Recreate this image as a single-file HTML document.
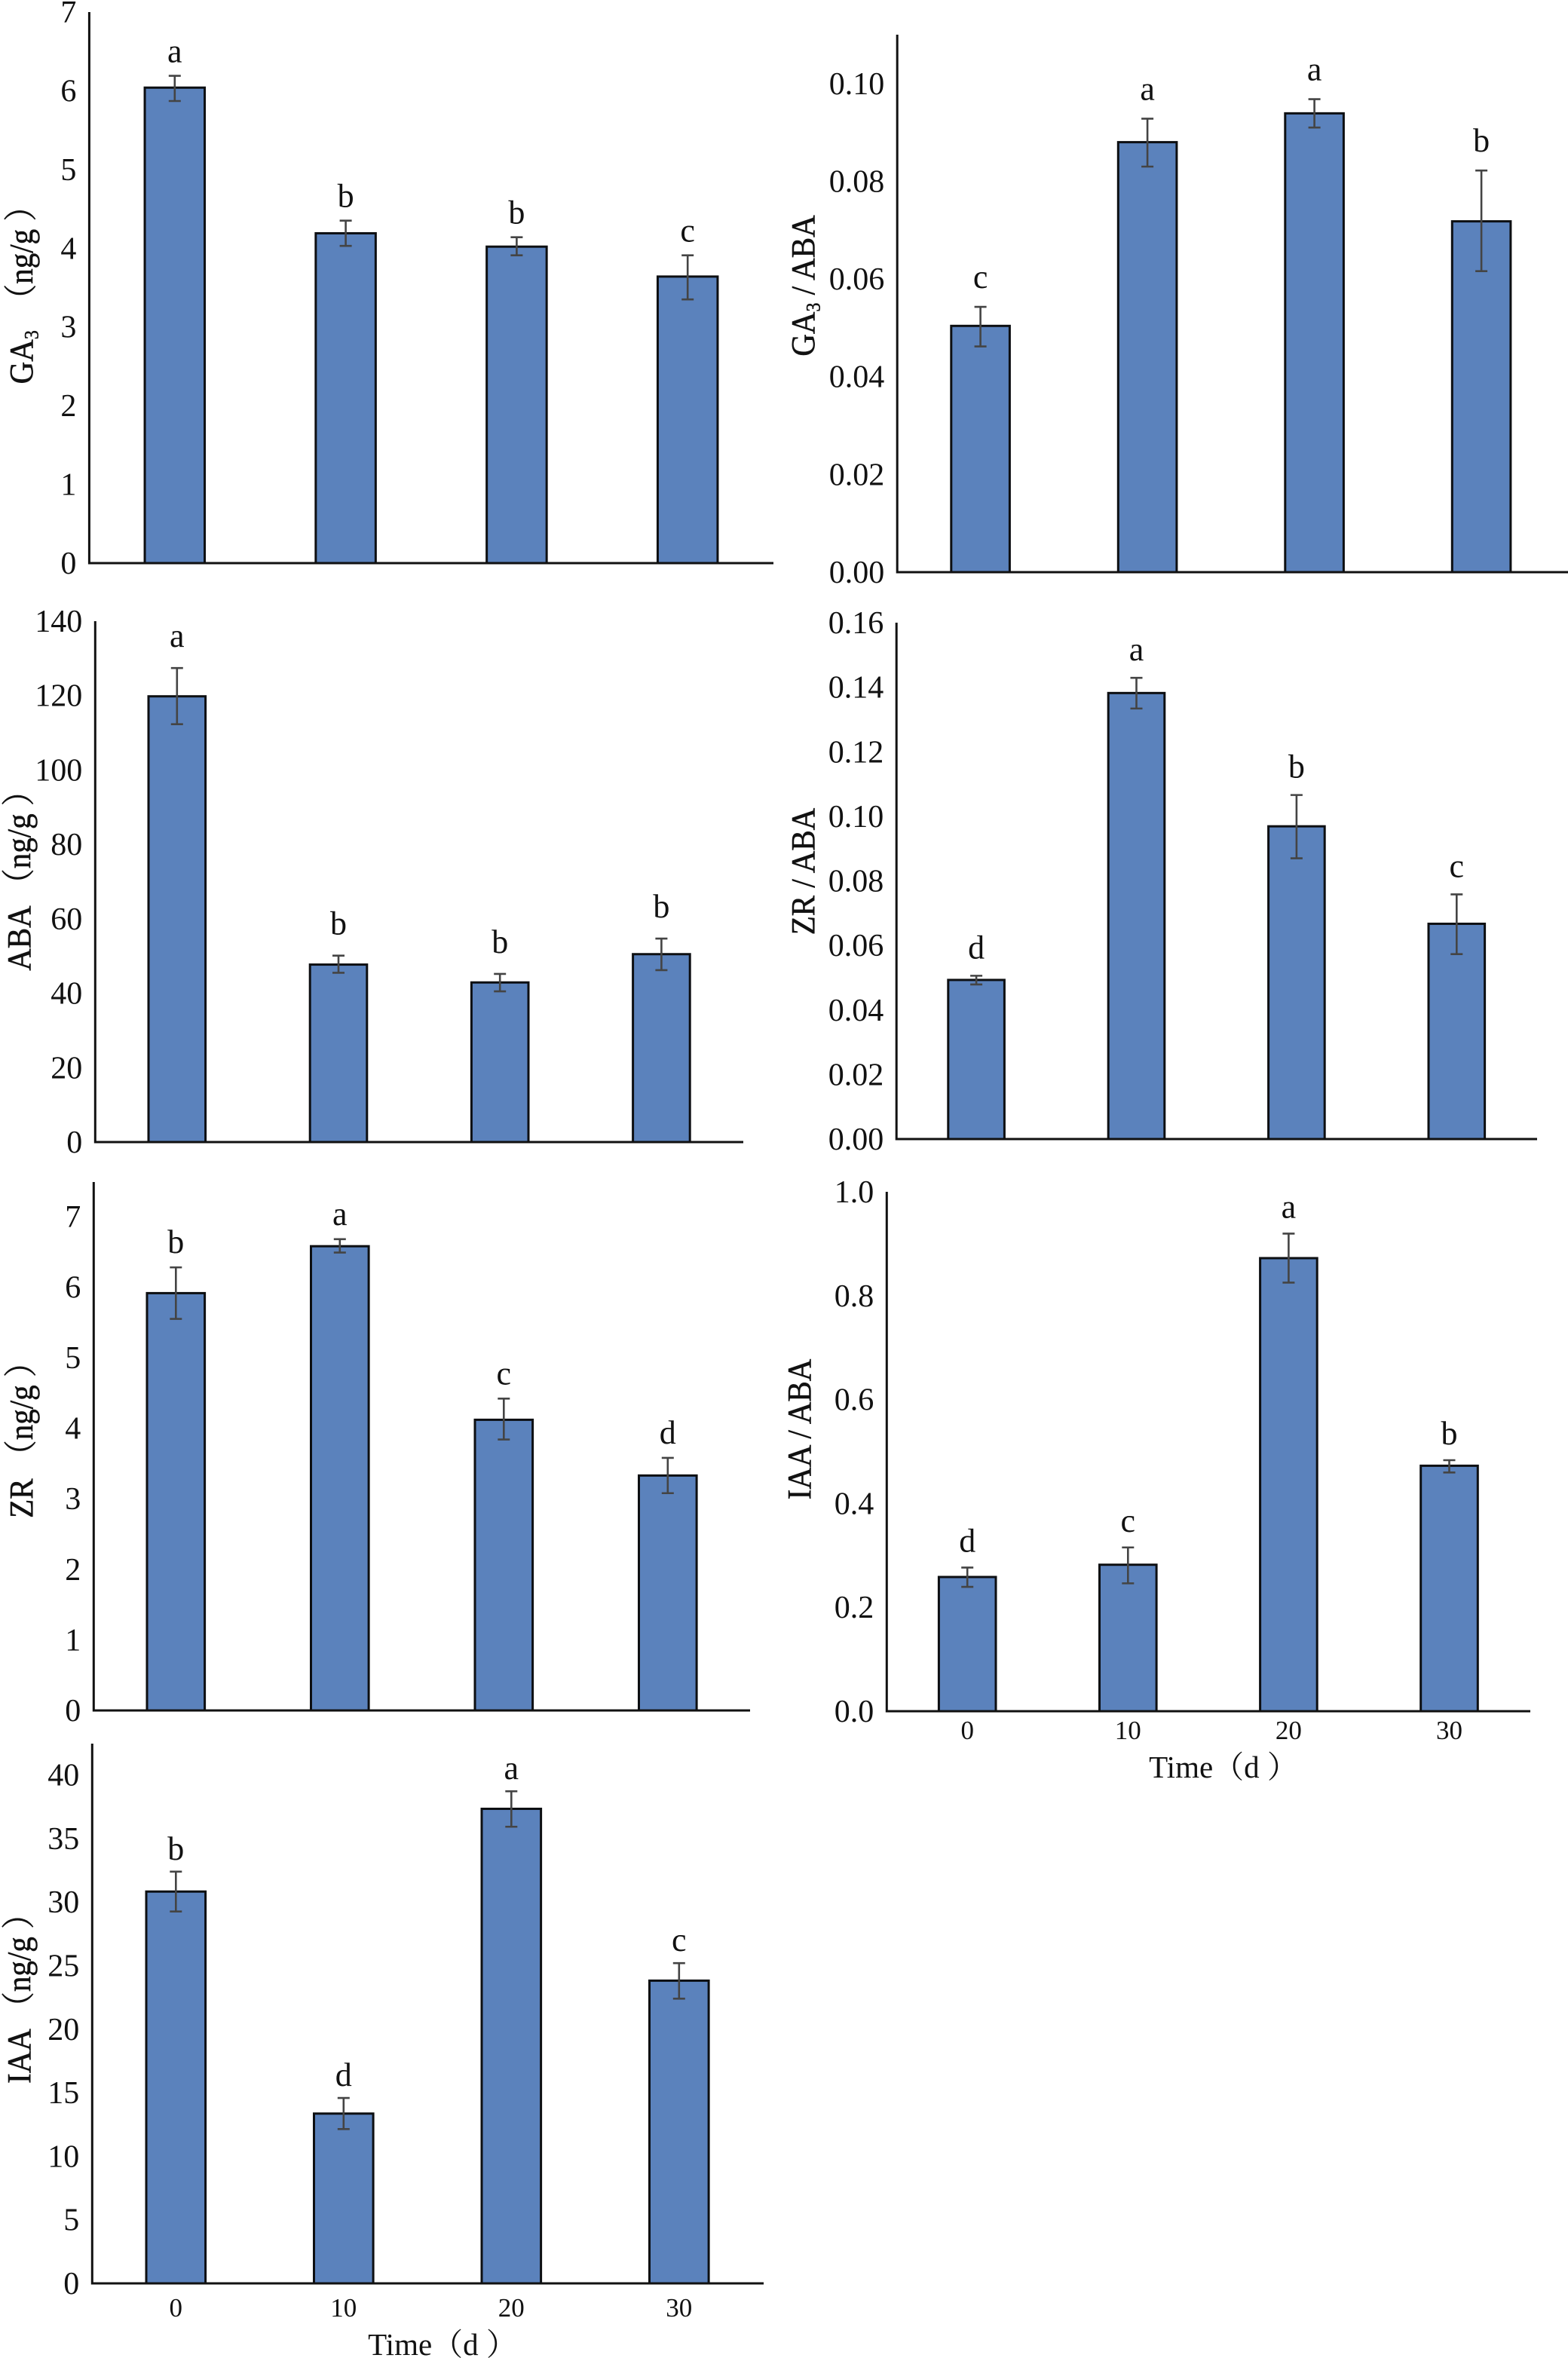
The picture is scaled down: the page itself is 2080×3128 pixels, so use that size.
<!DOCTYPE html>
<html lang="en">
<head>
<meta charset="utf-8">
<title>Hormone content and ratios over time</title>
<style>
html,body{margin:0;padding:0;background:#fff;}
svg{display:block;}
text{font-family:"Liberation Serif","Noto Serif CJK SC",serif;fill:#111;white-space:pre;}
</style>
</head>
<body>
<svg id="figure" xmlns="http://www.w3.org/2000/svg" width="2080" height="3128" viewBox="0 0 2080 3128"></svg>
<script>
const categories = ['0', '10', '20', '30'];

const ga3Ticks = ['0', '1', '2', '3', '4', '5', '6', '7'];
const ga3Values = [6.04, 4.19, 4.02, 3.64];
const ga3ErrHigh = [6.19, 4.35, 4.14, 3.91];
const ga3ErrLow = [5.87, 4.03, 3.91, 3.35];
const ga3Letters = ['a', 'b', 'b', 'c'];

const ga3AbaTicks = ['0.00', '0.02', '0.04', '0.06', '0.08', '0.10'];
const ga3AbaValues = [0.0504, 0.088, 0.0939, 0.0718];
const ga3AbaErrHigh = [0.0543, 0.0928, 0.0968, 0.0822];
const ga3AbaErrLow = [0.0462, 0.083, 0.091, 0.0616];
const ga3AbaLetters = ['c', 'a', 'a', 'b'];

const abaTicks = ['0', '20', '40', '60', '80', '100', '120', '140'];
const abaValues = [119.8, 47.7, 42.9, 50.5];
const abaErrHigh = [127.4, 50.1, 45.2, 54.7];
const abaErrLow = [112.3, 45.5, 40.5, 46.2];
const abaLetters = ['a', 'b', 'b', 'b'];

const zrAbaTicks = ['0.00', '0.02', '0.04', '0.06', '0.08', '0.10', '0.12', '0.14', '0.16'];
const zrAbaValues = [0.0493, 0.1382, 0.0969, 0.0667];
const zrAbaErrHigh = [0.0506, 0.1429, 0.1066, 0.0758];
const zrAbaErrLow = [0.0479, 0.1334, 0.087, 0.0573];
const zrAbaLetters = ['d', 'a', 'b', 'c'];

const zrTicks = ['0', '1', '2', '3', '4', '5', '6', '7'];
const zrValues = [5.915, 6.58, 4.12, 3.33];
const zrErrHigh = [6.28, 6.68, 4.42, 3.58];
const zrErrLow = [5.55, 6.49, 3.84, 3.08];
const zrLetters = ['b', 'a', 'c', 'd'];

const iaaAbaTicks = ['0.0', '0.2', '0.4', '0.6', '0.8', '1.0'];
const iaaAbaValues = [0.2584, 0.282, 0.8723, 0.4726];
const iaaAbaErrHigh = [0.2766, 0.3153, 0.9195, 0.4833];
const iaaAbaErrLow = [0.2394, 0.2462, 0.8252, 0.4597];
const iaaAbaLetters = ['d', 'c', 'a', 'b'];

const iaaTicks = ['0', '5', '10', '15', '20', '25', '30', '35', '40'];
const iaaValues = [30.83, 13.36, 37.34, 23.82];
const iaaErrHigh = [32.4, 14.59, 38.72, 25.2];
const iaaErrLow = [29.26, 12.14, 35.93, 22.4];
const iaaLetters = ['b', 'd', 'a', 'c'];

const svgNS = 'http://www.w3.org/2000/svg';
const figure = document.getElementById('figure');

function make(parent, tag, attrs, content) {
  const el = document.createElementNS(svgNS, tag);
  for (const k in attrs) el.setAttribute(k, attrs[k]);
  if (content !== undefined) el.textContent = content;
  parent.appendChild(el);
  return el;
}

function drawPanel(p) {
  const g = make(figure, 'g', {});
  
  

  const yScale = v => p.baseY - (v / p.yMax) * (p.baseY - p.topY);
  const xScale = i => p.firstX + i * p.stepX;

  p.values.forEach((v, i) => {
    const cat = categories[i];
    const bar = make(g, 'rect', {
      x: xScale(i) - p.barW / 2, y: yScale(v), width: p.barW, height: p.baseY - yScale(v),
      fill: '#5b82bc', stroke: '#0d0f12', 'stroke-width': 3
    });
    
    

    const errX = xScale(i);
    const hi = yScale(p.errHigh[i]);
    const lo = yScale(p.errLow[i]);
    const err = make(g, 'path', {
      d: 'M' + errX + ' ' + hi + 'V' + lo + 'M' + (errX - 8) + ' ' + hi + 'H' + (errX + 8) + 'M' + (errX - 8) + ' ' + lo + 'H' + (errX + 8),
      fill: 'none', stroke: '#444', 'stroke-width': 2.6
    });
    
    

    const letter = make(g, 'text', {
      x: errX, y: hi - p.letterGap, 'text-anchor': 'middle', 'font-size': 44
    }, p.letters[i]);
    
    
  });

  const yAxis = make(g, 'line', {
    x1: p.axisX, x2: p.axisX, y1: p.topY, y2: p.baseY + 1.5, stroke: '#111', 'stroke-width': 3
  });
  
  

  const xAxis = make(g, 'line', {
    x1: p.axisX, x2: p.rightX, y1: p.baseY, y2: p.baseY, stroke: '#111', 'stroke-width': 3
  });
  
  

  p.ticks.forEach(t => {
    const tick = make(g, 'text', {
      x: p.axisX - 17, y: yScale(parseFloat(t)) + 14, 'text-anchor': 'end', 'font-size': 42
    }, t);
    
    
  });

  const title = make(g, 'text', {
    transform: 'translate(' + p.titleX + ' ' + p.titleY + ') rotate(-90) scale(1 1.08)',
    'text-anchor': 'middle', 'font-size': 41, stroke: '#111', 'stroke-width': 0.5
  });
  
  
  make(title, 'tspan', {}, p.titleA);
  if (p.titleSub) {
    make(title, 'tspan', { 'font-size': 24, dy: 7 }, p.titleSub);
    make(title, 'tspan', { dy: -7 }, p.titleB);
  }

  if (p.showX) {
    categories.forEach((c, i) => {
      const xt = make(g, 'text', {
        x: xScale(i), y: p.xTickY, 'text-anchor': 'middle', 'font-size': 35
      }, c);
      
      
    });
    const xTitle = make(g, 'text', {
      x: p.xTitleX, y: p.xTitleY, 'text-anchor': 'middle', 'font-size': 41
    }, 'Time（d ）');
    
    
  }
}

drawPanel({ key: 'ga3', ticks: ga3Ticks, values: ga3Values, errHigh: ga3ErrHigh, errLow: ga3ErrLow, letters: ga3Letters,
  yMax: 7, axisX: 118.4, rightX: 1026, topY: 16, baseY: 747, firstX: 231.8, stepX: 226.8, barW: 79.5, letterGap: 18,
  titleX: 43, titleY: 381, titleA: 'GA', titleSub: '3', titleB: '  （ng/g ）' });

drawPanel({ key: 'ga3-aba', ticks: ga3AbaTicks, values: ga3AbaValues, errHigh: ga3AbaErrHigh, errLow: ga3AbaErrLow, letters: ga3AbaLetters,
  yMax: 0.11, axisX: 1190.2, rightX: 2080, topY: 46, baseY: 759, firstX: 1300.6, stepX: 221.5, barW: 77.6, letterGap: 25,
  titleX: 1080, titleY: 379, titleA: 'GA', titleSub: '3', titleB: ' / ABA' });

drawPanel({ key: 'aba', ticks: abaTicks, values: abaValues, errHigh: abaErrHigh, errLow: abaErrLow, letters: abaLetters,
  yMax: 140, axisX: 126.3, rightX: 986, topY: 824, baseY: 1515, firstX: 234.8, stepX: 214.2, barW: 75.6, letterGap: 28,
  titleX: 40, titleY: 1158, titleA: 'ABA （ng/g ）' });

drawPanel({ key: 'zr-aba', ticks: zrAbaTicks, values: zrAbaValues, errHigh: zrAbaErrHigh, errLow: zrAbaErrLow, letters: zrAbaLetters,
  yMax: 0.16, axisX: 1189.2, rightX: 2039, topY: 826, baseY: 1511, firstX: 1295.1, stepX: 212.4, barW: 74.6, letterGap: 23,
  titleX: 1080, titleY: 1156, titleA: 'ZR / ABA' });

drawPanel({ key: 'zr', ticks: zrTicks, values: zrValues, errHigh: zrErrHigh, errLow: zrErrLow, letters: zrLetters,
  yMax: 7.49, axisX: 124.3, rightX: 995, topY: 1568, baseY: 2269, firstX: 233.3, stepX: 217.5, barW: 76.6, letterGap: 19,
  titleX: 43, titleY: 1900, titleA: 'ZR （ng/g ）' });

drawPanel({ key: 'iaa-aba', ticks: iaaAbaTicks, values: iaaAbaValues, errHigh: iaaAbaErrHigh, errLow: iaaAbaErrLow, letters: iaaAbaLetters,
  yMax: 1, axisX: 1176.3, rightX: 2030, topY: 1581, baseY: 2270, firstX: 1283.2, stepX: 213.1, barW: 75.6, letterGap: 21,
  titleX: 1075, titleY: 1896, titleA: 'IAA / ABA',
  showX: true, xTickY: 2307, xTitleX: 1623, xTitleY: 2358 });

drawPanel({ key: 'iaa', ticks: iaaTicks, values: iaaValues, errHigh: iaaErrHigh, errLow: iaaErrLow, letters: iaaLetters,
  yMax: 42.47, axisX: 122.3, rightX: 1013, topY: 2313, baseY: 3029, firstX: 233.3, stepX: 222.5, barW: 78.6, letterGap: 16,
  titleX: 40, titleY: 2641, titleA: 'IAA （ng/g ）',
  showX: true, xTickY: 3073, xTitleX: 587, xTitleY: 3124 });
</script>
</body>
</html>
